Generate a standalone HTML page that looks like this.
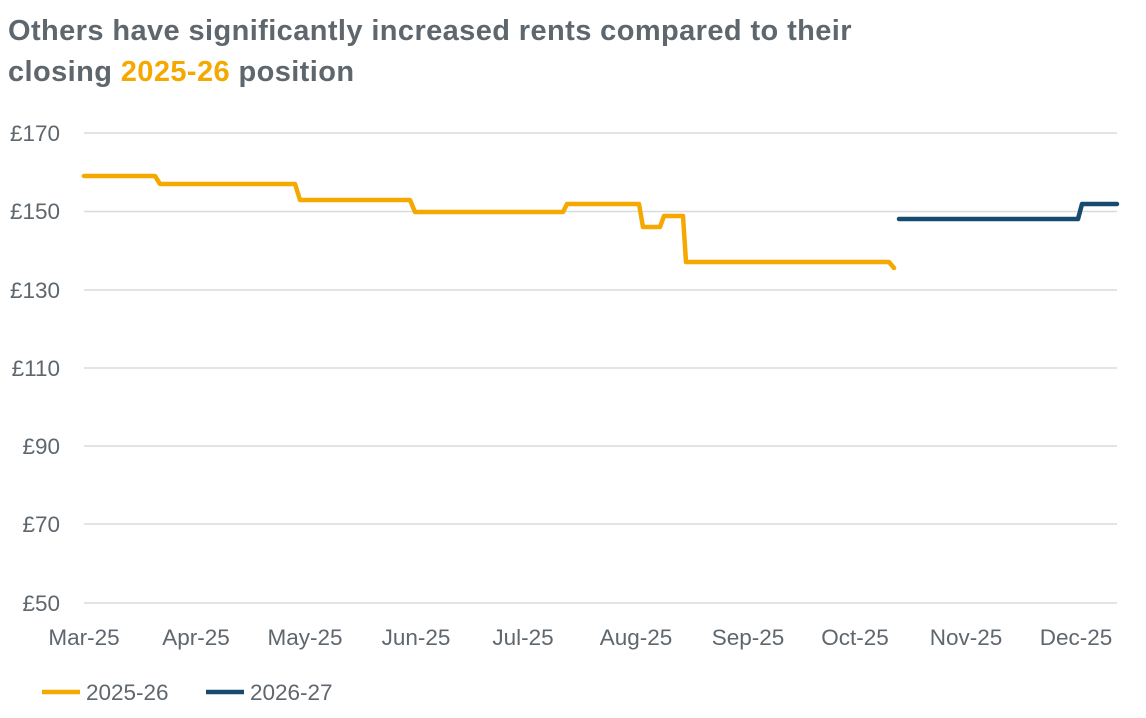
<!DOCTYPE html>
<html><head><meta charset="utf-8"><style>
body{margin:0;width:1146px;height:718px;background:#fff;font-family:"Liberation Sans",sans-serif;overflow:hidden}
.t{position:absolute;left:8px;top:11px;font-size:29px;font-weight:bold;color:#5e666e;line-height:41px;letter-spacing:0.4px}
.t span{color:#f5a800}
</style></head><body>
<div class="t">Others have significantly increased rents compared to their<br>closing <span>2025-26</span> position</div>
<svg width="1146" height="718" style="position:absolute;left:0;top:0">
<g stroke="#d9dcdf" stroke-width="1.5">
<line x1="84" x2="1117" y1="133" y2="133"/><line x1="84" x2="1117" y1="211.5" y2="211.5"/>
<line x1="84" x2="1117" y1="290" y2="290"/><line x1="84" x2="1117" y1="368" y2="368"/>
<line x1="84" x2="1117" y1="446" y2="446"/><line x1="84" x2="1117" y1="524" y2="524"/>
<line x1="84" x2="1117" y1="603" y2="603"/></g>
<g font-size="22.5" fill="#5e666e" text-anchor="end">
<text x="60" y="141">£170</text><text x="60" y="219">£150</text><text x="60" y="298">£130</text>
<text x="60" y="376">£110</text><text x="60" y="454">£90</text><text x="60" y="532">£70</text><text x="60" y="611">£50</text></g>
<g font-size="22.5" fill="#5e666e" text-anchor="middle">
<text x="84" y="645">Mar-25</text><text x="196" y="645">Apr-25</text><text x="305" y="645">May-25</text>
<text x="416" y="645">Jun-25</text><text x="523" y="645">Jul-25</text><text x="636" y="645">Aug-25</text>
<text x="748" y="645">Sep-25</text><text x="855" y="645">Oct-25</text><text x="966" y="645">Nov-25</text>
<text x="1076" y="645">Dec-25</text></g>
<polyline fill="none" stroke="#f5a800" stroke-width="4.5" stroke-linecap="round" stroke-linejoin="round" points="84,176 155,176 160,184 295,184 300,200 410,200 415,212 563,212 567,204 639,204 643,227 660,227 664,216 683,216 686,262 889,262 894,268"/>
<polyline fill="none" stroke="#164a6e" stroke-width="4.5" stroke-linecap="round" stroke-linejoin="round" points="899,219 1078,219 1082,204 1117,204"/>
<line x1="42" x2="80" y1="692" y2="692" stroke="#f5a800" stroke-width="4.5"/>
<text x="86" y="700" font-size="22.5" fill="#5e666e">2025-26</text>
<line x1="206" x2="244" y1="692" y2="692" stroke="#164a6e" stroke-width="4.5"/>
<text x="250" y="700" font-size="22.5" fill="#5e666e">2026-27</text>
</svg>
</body></html>
